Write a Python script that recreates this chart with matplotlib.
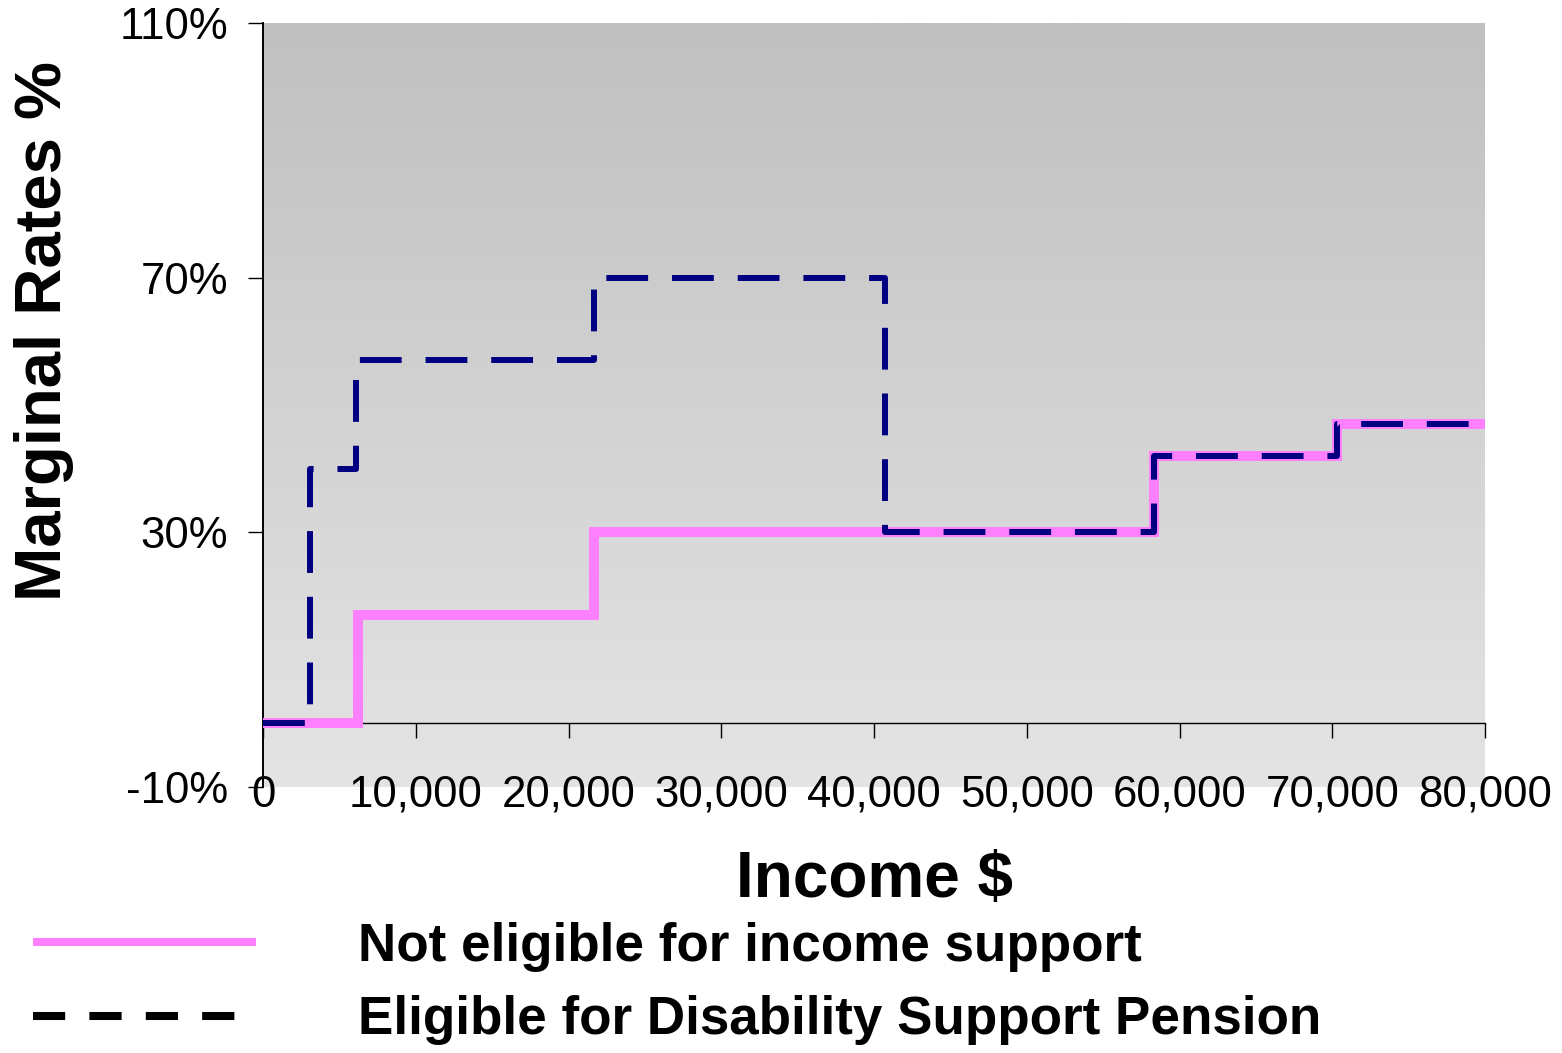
import numpy as np
import matplotlib
matplotlib.use("Agg")
import matplotlib.pyplot as plt
from matplotlib.colors import LinearSegmentedColormap
from matplotlib.lines import Line2D

plt.rcParams["font.family"] = ["Liberation Sans", "DejaVu Sans"]

# Step breakpoints (income $) and marginal rates (%) for each case
not_eligible_income = [0, 6200, 21700, 58300, 70300, 80000]
not_eligible_rate = [0, 17, 30, 42, 47]

dsp_income = [0, 3100, 6100, 21700, 40700, 58300, 70300, 80000]
dsp_rate = [0, 40, 57, 70, 30, 42, 47]

x_ticks = [0, 10000, 20000, 30000, 40000, 50000, 60000, 70000, 80000]
x_tick_labels = ["0", "10,000", "20,000", "30,000", "40,000",
                 "50,000", "60,000", "70,000", "80,000"]
y_ticks = [-10, 30, 70, 110]
y_tick_labels = ["-10%", "30%", "70%", "110%"]

labels = ["Not eligible for income support",
          "Eligible for Disability Support Pension"]

pink = "#FF80FF"
navy = "#000080"

fig = plt.figure(figsize=(15.62, 10.53), dpi=100)
W, H = 1562, 1053
ax = fig.add_axes([263 / W, 1 - 787 / H, (1485 - 263) / W, (787 - 23) / H])

# grey vertical gradient behind the plot
bg = LinearSegmentedColormap.from_list("bg", ["#C0C0C0", "#E4E4E4"])
ax.imshow(np.linspace(0, 1, 256).reshape(-1, 1), cmap=bg, aspect="auto",
          extent=[0, 1, 0, 1], transform=ax.transAxes, zorder=0)


def step_xy(edges, rates):
    return edges, list(rates) + [rates[-1]]


x1, y1 = step_xy(not_eligible_income, not_eligible_rate)
ax.plot(x1, y1, drawstyle="steps-post", color=pink, lw=7.2,
        solid_capstyle="butt", solid_joinstyle="miter", zorder=3,
        clip_on=False)

x2, y2 = step_xy(dsp_income, dsp_rate)
ax.plot(x2, y2, drawstyle="steps-post", color=navy, lw=4.3,
        dashes=(7, 4), dash_capstyle="butt", zorder=4, clip_on=False)

ax.set_xlim(0, 80000)
ax.set_ylim(-10, 110)

ax.spines["top"].set_visible(False)
ax.spines["right"].set_visible(False)
ax.spines["bottom"].set_position(("data", 0))
ax.spines["bottom"].set_linewidth(1.0)
ax.spines["left"].set_linewidth(1.4)

ax.set_xticks(x_ticks)
ax.set_xticklabels(x_tick_labels)
ax.set_yticks(y_ticks)
ax.set_yticklabels(y_tick_labels)
ax.tick_params(axis="x", direction="out", length=11, width=1, pad=26,
               labelsize=31.5)
ax.tick_params(axis="y", direction="out", length=11, width=1, pad=14,
               labelsize=31.5)

fig.text(44 / W, 1 - 331 / H, "Marginal Rates %", rotation=90,
         ha="center", va="center", fontsize=47, fontweight="bold")
fig.text(875 / W, 1 - 880 / H, "Income $", ha="center", va="center",
         fontsize=46, fontweight="bold")

handles = [
    Line2D([], [], color=pink, lw=5.8, solid_capstyle="butt"),
    Line2D([], [], color="black", lw=5.8, dashes=(4, 3),
           dash_capstyle="butt"),
]
fig.legend(handles, labels, loc="upper left",
           bbox_to_anchor=(33 / W, 1 - 922 / H), frameon=False,
           borderpad=0, borderaxespad=0, handlelength=4.2,
           handletextpad=1.92, labelspacing=0.44,
           prop={"size": 38.2, "weight": "bold"})

fig.savefig("out.png", dpi=100)
